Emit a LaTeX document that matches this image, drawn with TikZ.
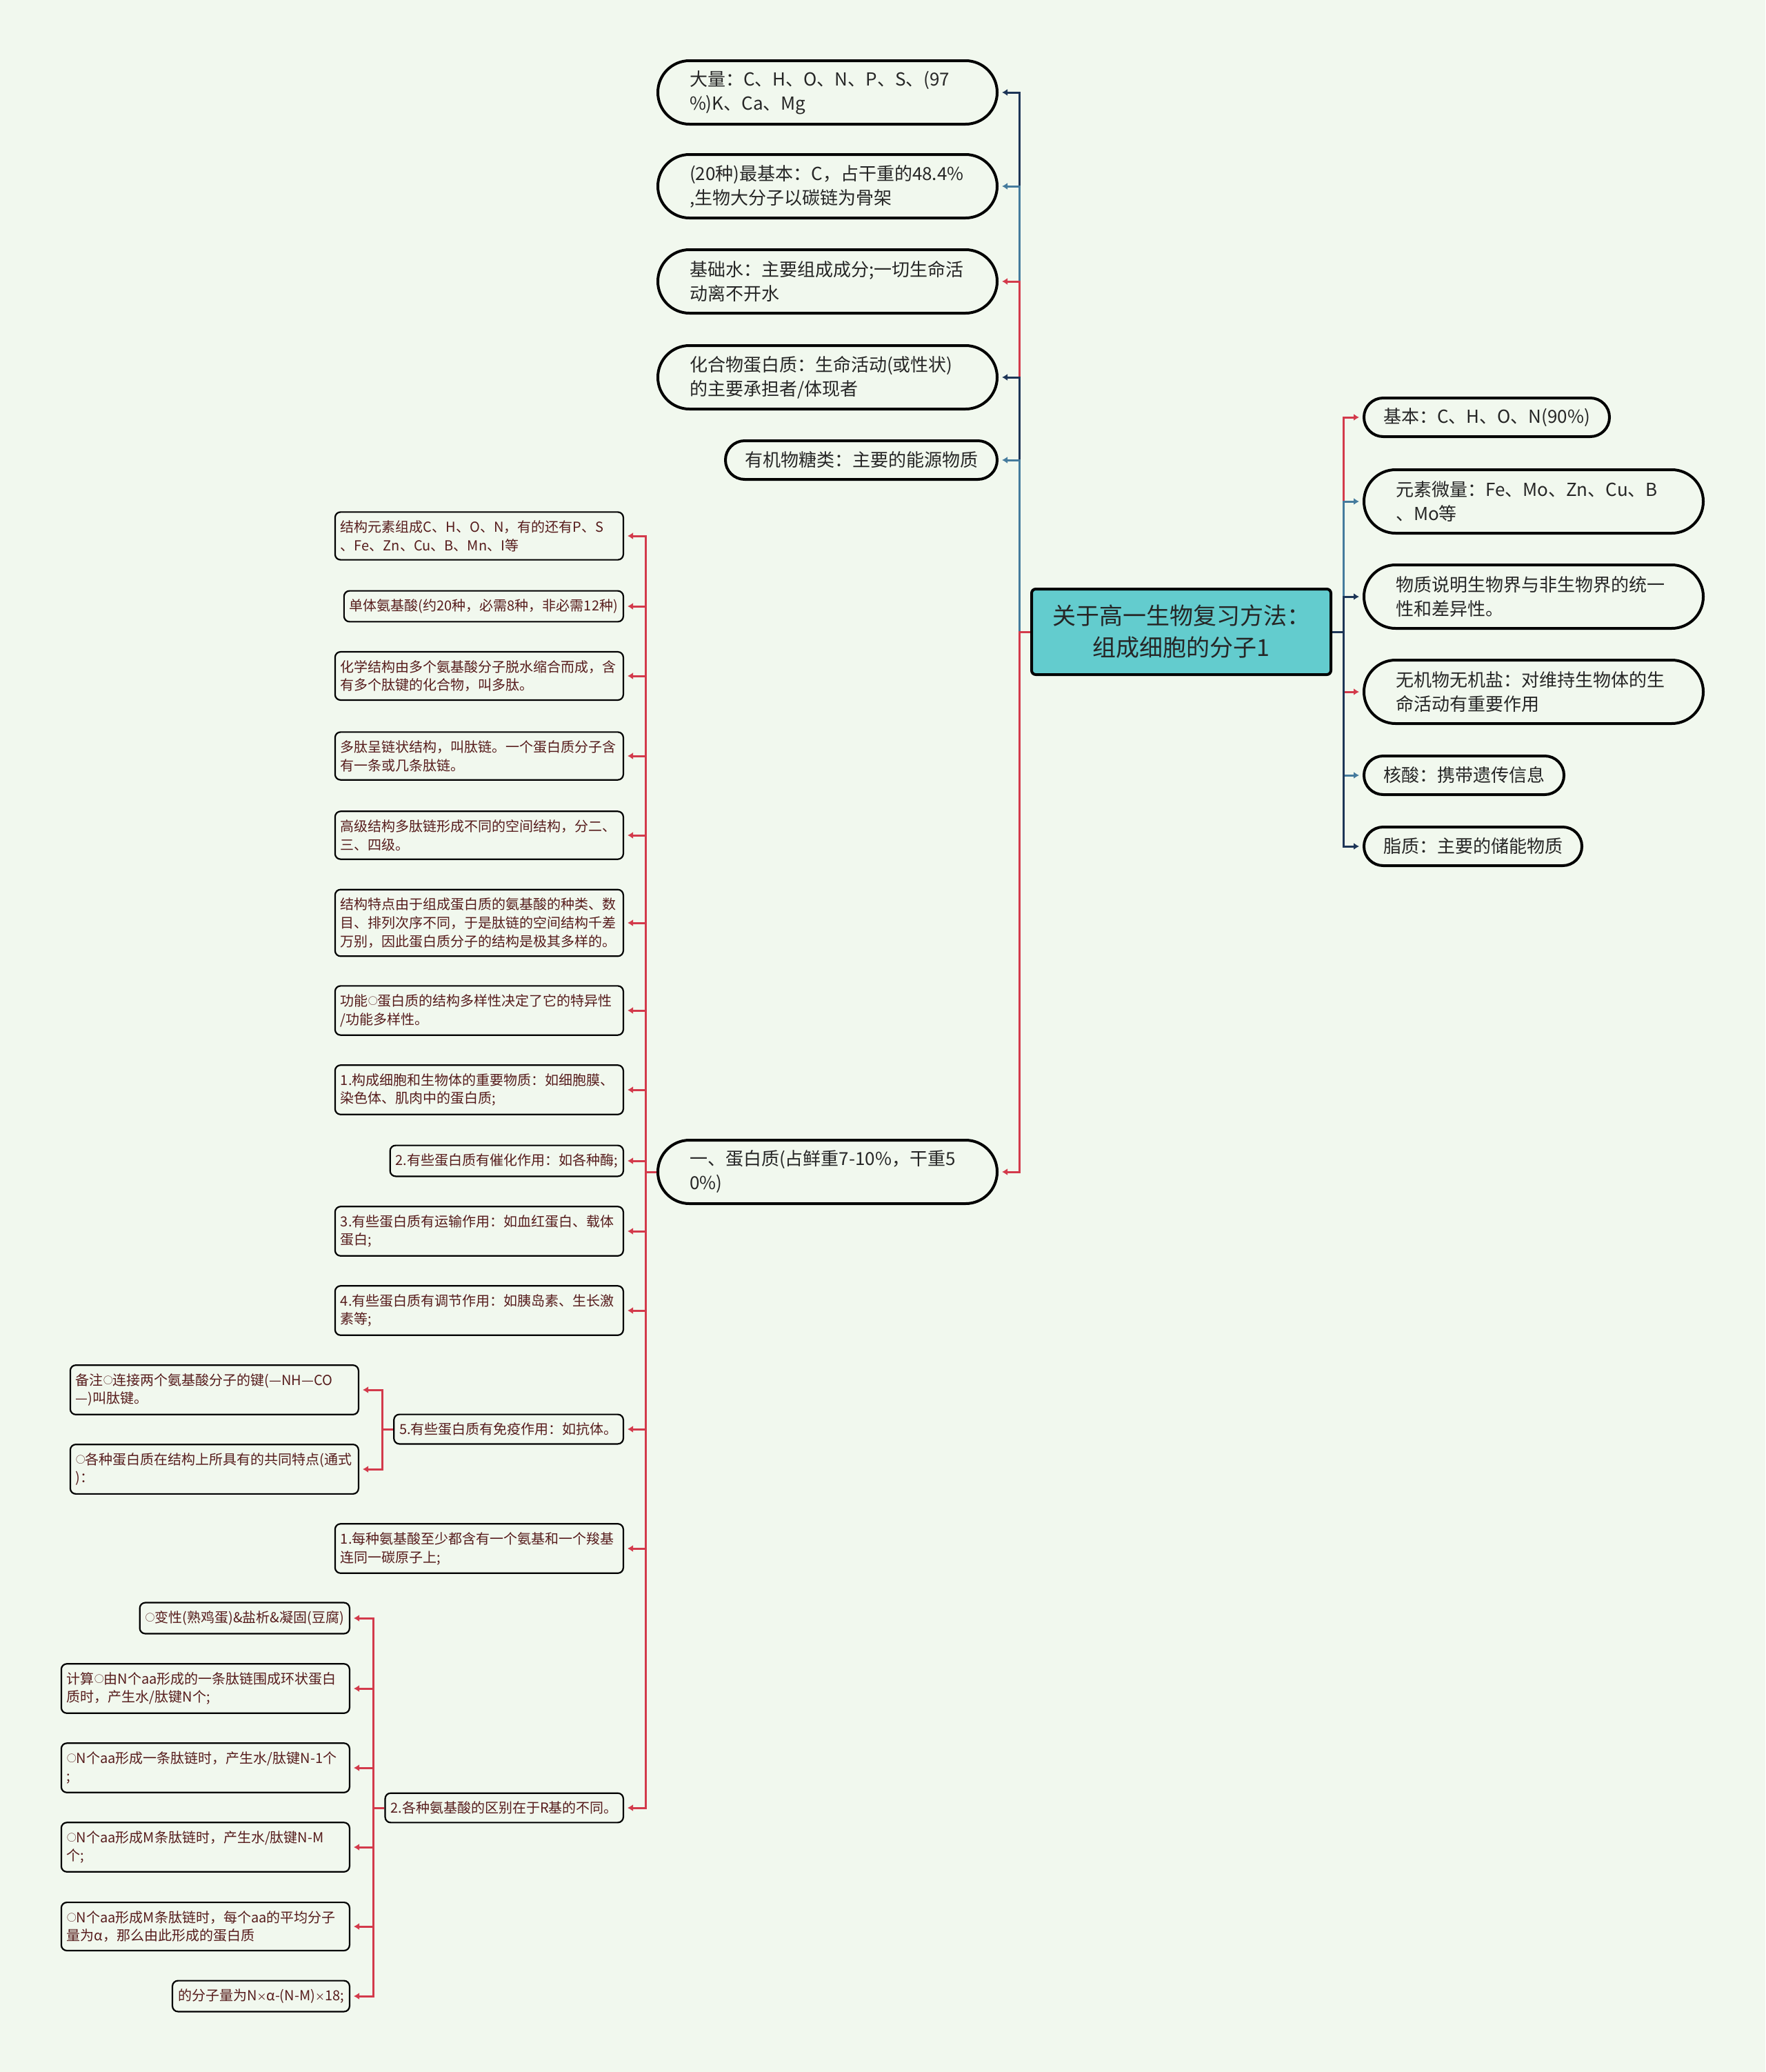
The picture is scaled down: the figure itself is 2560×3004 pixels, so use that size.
\documentclass[tikz,border=0pt]{standalone}
\usepackage{fontspec}
\setmainfont{Noto Sans CJK SC}
\usetikzlibrary{arrows.meta}
\definecolor{bgc}{HTML}{F1F8EE}
\definecolor{rootc}{HTML}{63CCCE}
\definecolor{redc}{HTML}{D33A4B}
\definecolor{navyc}{HTML}{1D3557}
\definecolor{bluec}{HTML}{457B9D}
\definecolor{textc}{HTML}{262626}
\definecolor{brownc}{HTML}{561C1C}
\newcommand{\dotc}{\raisebox{1pt}{\fontsize{7pt}{7pt}\selectfont ○}}
\newcommand{\timesc}{{\fontsize{7pt}{7pt}\selectfont ×}}

\begin{document}
\begin{tikzpicture}[x=0.5pt,y=-0.5pt,shorten >=2.5pt,>={Latex[length=4pt,width=5pt]},
	root/.style={draw,line width=2pt,fill=rootc,rounded corners=3pt,align=center,text=textc,
		font=\fontsize{17pt}{23pt}\selectfont,minimum width=217pt,minimum height=62pt},
	pill/.style={draw,line width=2pt,rounded corners=13.9pt,inner xsep=14pt,minimum height=28pt,
		text=textc,font=\fontsize{13pt}{17.5pt}\selectfont},
	pilltwo/.style={pill,rounded corners=22.9pt,minimum height=46pt,text width=200pt,inner xsep=23pt,align=left},
	leaf/.style={draw,line width=1.1pt,rounded corners=4pt,inner xsep=4pt,inner ysep=6pt,
		text=brownc,font=\fontsize{10pt}{13.4pt}\selectfont},
	leaftwo/.style={leaf,text width=201pt,align=left},
	lbr/.style={to path={-- ++(-16,0) |- (\tikztotarget)}},
	rbr/.style={to path={-- ++(16,0) |- (\tikztotarget)}}]
	\useasboundingbox (0,0) rectangle (2560,3004);
	\fill[bgc] (0,0) rectangle (2560,3004);

	% centre
	\node[root] (m_0) at (1713,916) {关于高一生物复习方法：\\组成细胞的分子1};

	% left topics
	\node[pilltwo,anchor=east] (l_1) at (1448,134) {大量：C、H、O、N、P、S、(97\\\%)K、Ca、Mg};
	\node[pilltwo,anchor=east] (l_2) at (1448,270) {(20种)最基本：C，占干重的48.4\%\\,生物大分子以碳链为骨架};
	\node[pilltwo,anchor=east] (l_3) at (1448,408) {基础水：主要组成成分;一切生命活\\动离不开水};
	\node[pilltwo,anchor=east] (l_4) at (1448,547) {化合物蛋白质：生命活动(或性状)\\的主要承担者/体现者};
	\node[pill,anchor=east] (l_5) at (1448,667) {有机物糖类：主要的能源物质};
	\node[pilltwo,anchor=east] (l_6) at (1448,1699) {一、蛋白质(占鲜重7-10\%，干重5\\0\%)};

	% right topics
	\node[pill,anchor=west] (r_1) at (1976,605) {基本：C、H、O、N(90\%)};
	\node[pilltwo,anchor=west] (r_2) at (1976,727) {元素微量：Fe、Mo、Zn、Cu、B\\、Mo等};
	\node[pilltwo,anchor=west] (r_3) at (1976,865) {物质说明生物界与非生物界的统一\\性和差异性。};
	\node[pilltwo,anchor=west] (r_4) at (1976,1003) {无机物无机盐：对维持生物体的生\\命活动有重要作用};
	\node[pill,anchor=west] (r_5) at (1976,1124) {核酸：携带遗传信息};
	\node[pill,anchor=west] (r_6) at (1976,1227) {脂质：主要的储能物质};

	% protein
	\node[leaftwo,anchor=east] (p_1) at (905,777) {结构元素组成C、H、O、N，有的还有P、S\\、Fe、Zn、Cu、B、Mn、I等};
	\node[leaf,anchor=east] (p_2) at (905,879) {单体氨基酸(约20种，必需8种，非必需12种)};
	\node[leaftwo,anchor=east] (p_3) at (905,980) {化学结构由多个氨基酸分子脱水缩合而成，含\\有多个肽键的化合物，叫多肽。};
	\node[leaftwo,anchor=east] (p_4) at (905,1096) {多肽呈链状结构，叫肽链。一个蛋白质分子含\\有一条或几条肽链。};
	\node[leaftwo,anchor=east] (p_5) at (905,1211) {高级结构多肽链形成不同的空间结构，分二、\\三、四级。};
	\node[leaftwo,anchor=east] (p_6) at (905,1338) {结构特点由于组成蛋白质的氨基酸的种类、数\\目、排列次序不同，于是肽链的空间结构千差\\万别，因此蛋白质分子的结构是极其多样的。};
	\node[leaftwo,anchor=east] (p_7) at (905,1465) {功能\dotc 蛋白质的结构多样性决定了它的特异性\\/功能多样性。};
	\node[leaftwo,anchor=east] (p_8) at (905,1580) {1.构成细胞和生物体的重要物质：如细胞膜、\\染色体、肌肉中的蛋白质;};
	\node[leaf,anchor=east] (p_9) at (905,1683) {2.有些蛋白质有催化作用：如各种酶;};
	\node[leaftwo,anchor=east] (p_10) at (905,1785) {3.有些蛋白质有运输作用：如血红蛋白、载体\\蛋白;};
	\node[leaftwo,anchor=east] (p_11) at (905,1900) {4.有些蛋白质有调节作用：如胰岛素、生长激\\素等;};
	\node[leaf,anchor=east] (p_12) at (905,2072) {5.有些蛋白质有免疫作用：如抗体。};
	\node[leaftwo,anchor=east] (p_13) at (905,2245) {1.每种氨基酸至少都含有一个氨基和一个羧基\\连同一碳原子上;};
	\node[leaf,anchor=east] (p_14) at (905,2621) {2.各种氨基酸的区别在于R基的不同。};

	\node[leaftwo,anchor=east] (q_1) at (521,2015) {备注\dotc 连接两个氨基酸分子的键(—NH—CO\\—)叫肽键。};
	\node[leaftwo,anchor=east] (q_2) at (521,2130) {\dotc 各种蛋白质在结构上所具有的共同特点(通式\\)：};

	\node[leaf,anchor=east] (a_1) at (508,2346) {\dotc 变性(熟鸡蛋)\&盐析\&凝固(豆腐)};
	\node[leaftwo,anchor=east] (a_2) at (508,2448) {计算\dotc 由N个aa形成的一条肽链围成环状蛋白\\质时，产生水/肽键N个;};
	\node[leaftwo,anchor=east] (a_3) at (508,2563) {\dotc N个aa形成一条肽链时，产生水/肽键N-1个\\;};
	\node[leaftwo,anchor=east] (a_4) at (508,2678) {\dotc N个aa形成M条肽链时，产生水/肽键N-M\\个;};
	\node[leaftwo,anchor=east] (a_5) at (508,2793) {\dotc N个aa形成M条肽链时，每个aa的平均分子\\量为α，那么由此形成的蛋白质};
	\node[leaf,anchor=east] (a_6) at (508,2894) {的分子量为N\timesc α-(N-M)\timesc 18;};

	\path[->,line width=1.5pt]
		(m_0.west) edge[lbr,navyc] (l_1.east)
		edge[lbr,bluec] (l_2.east)
		edge[lbr,redc] (l_3.east)
		edge[lbr,navyc] (l_4.east)
		edge[lbr,bluec] (l_5.east)
		edge[lbr,redc] (l_6.east)
		(m_0.east) edge[rbr,redc] (r_1.west)
		edge[rbr,bluec] (r_2.west)
		edge[rbr,navyc] (r_3.west)
		edge[rbr,redc] (r_4.west)
		edge[rbr,bluec] (r_5.west)
		edge[rbr,navyc] (r_6.west);
	\path[->,line width=1.5pt,redc]
		(l_6.west) edge[lbr] (p_1.east) edge[lbr] (p_2.east) edge[lbr] (p_3.east)
		edge[lbr] (p_4.east) edge[lbr] (p_5.east) edge[lbr] (p_6.east)
		edge[lbr] (p_7.east) edge[lbr] (p_8.east) edge[lbr] (p_9.east)
		edge[lbr] (p_10.east) edge[lbr] (p_11.east) edge[lbr] (p_12.east)
		edge[lbr] (p_13.east) edge[lbr] (p_14.east)
		(p_12.west) edge[lbr] (q_1.east) edge[lbr] (q_2.east)
		(p_14.west) edge[lbr] (a_1.east) edge[lbr] (a_2.east) edge[lbr] (a_3.east)
		edge[lbr] (a_4.east) edge[lbr] (a_5.east) edge[lbr] (a_6.east);
\end{tikzpicture}
\end{document}
